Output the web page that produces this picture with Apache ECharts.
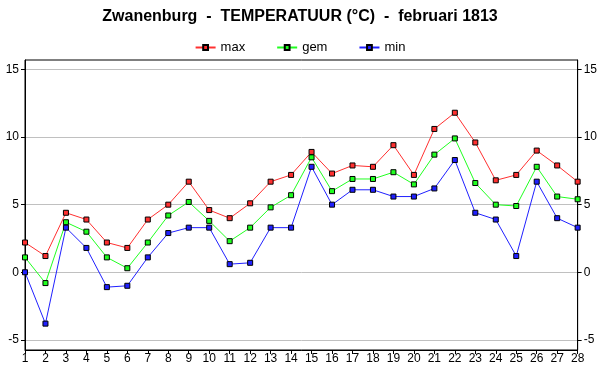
<!DOCTYPE html>
<html><head><meta charset="utf-8">
<script src="https://cdn.jsdelivr.net/npm/echarts@6/dist/echarts.min.js"></script>
<style>html,body{margin:0;padding:0;background:#fff}#c{width:600px;height:390px}</style>
</head><body><div id="c"></div>
<script>
const days = ['1','2','3','4','5','6','7','8','9','10','11','12','13','14','15','16','17','18','19','20','21','22','23','24','25','26','27','28'];
const maxT = [2.2,1.2,4.4,3.9,2.2,1.8,3.9,5.0,6.7,4.6,4.0,5.1,6.7,7.2,8.9,7.3,7.9,7.8,9.4,7.2,10.6,11.8,9.6,6.8,7.2,9.0,7.9,6.7];
const gemT = [1.1,-0.8,3.7,3.0,1.1,0.3,2.2,4.2,5.2,3.8,2.3,3.3,4.8,5.7,8.5,6.0,6.9,6.9,7.4,6.5,8.7,9.9,6.6,5.0,4.9,7.8,5.6,5.4];
const minT = [0.0,-3.8,3.3,1.8,-1.1,-1.0,1.1,2.9,3.3,3.3,0.6,0.7,3.3,3.3,7.8,5.0,6.1,6.1,5.6,5.6,6.2,8.3,4.4,3.9,1.2,6.7,4.0,3.3];
const yTicks = [-5,0,5,10,15];
const titleText = 'Zwanenburg  -  TEMPERATUUR (°C)  -  februari 1813';

const font = 'Liberation Sans, Arial, sans-serif';
function yAxis(pos){
  return {
    type:'value', position:pos, min:-5.75, max:15.7,
    axisLine:{show:true,onZero:false,lineStyle:{color:'#000',width:1}},
    axisTick:{show:true,inside:false,length:4,customValues:yTicks,lineStyle:{color:'#000'}},
    axisLabel:{customValues:yTicks,color:'#000',fontFamily:font,fontSize:12,margin:6},
    splitLine:{show:pos==='left',lineStyle:{color:'#c0c0c0',width:1}}
  };
}
function ser(name,data,color){
  return {name,type:'line',data,symbol:'rect',symbolSize:5,showSymbol:true,
    lineStyle:{color,width:1},
    itemStyle:{color,borderColor:'#000',borderWidth:1},
    emphasis:{disabled:true},animation:false};
}
const chart = echarts.init(document.getElementById('c'),null,{renderer:'canvas'});
chart.setOption({
  animation:false,
  backgroundColor:'#fff',
  title:{text:titleText,left:'center',top:4,textStyle:{fontFamily:font,fontSize:16,fontWeight:'bold',color:'#000'}},
  legend:{top:36,left:'center',itemWidth:20,itemHeight:6,itemGap:31,
    textStyle:{fontFamily:font,fontSize:13,color:'#000'},
    data:['max','gem','min']},
  grid:{left:25,right:22,top:60,bottom:40,show:true,borderColor:'#000',borderWidth:1,backgroundColor:'transparent',containLabel:false},
  xAxis:{type:'category',data:days,boundaryGap:false,
    axisLine:{show:true,onZero:false,lineStyle:{color:'#000'}},
    axisTick:{show:true,length:4,interval:0,lineStyle:{color:'#000'}},
    axisLabel:{interval:0,color:'#000',fontFamily:font,fontSize:12,margin:3},
    splitLine:{show:false}},
  yAxis:[yAxis('left'),yAxis('right')],
  series:[ser('max',maxT,'#ff3030'),ser('gem',gemT,'#20ff20'),ser('min',minT,'#2020ff')]
});
</script></body></html>
